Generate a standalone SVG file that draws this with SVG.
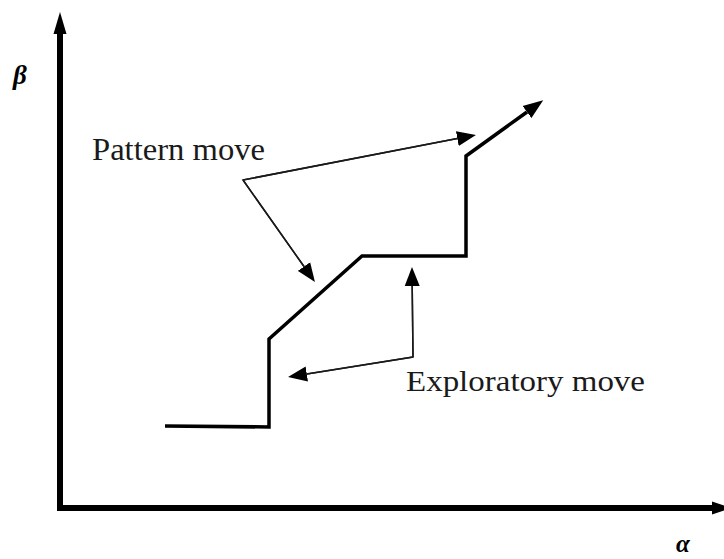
<svg xmlns="http://www.w3.org/2000/svg" width="724" height="559" viewBox="0 0 724 559">
  <style>
    .axis { stroke: #000; stroke-width: 6; fill: none; }
    .thick { stroke: #000; stroke-width: 3.5; fill: none; stroke-linejoin: miter; }
    .thin { stroke: #1a1a1a; stroke-width: 1.5; fill: none; }
    .lbl { fill: #1a1a1a; }
    .sym { font-style: italic; font-weight: bold; fill: #000; }
  </style>
  <defs>
    <marker id="headThick" markerUnits="userSpaceOnUse" viewBox="0 -8 21 16" refX="0" refY="0" markerWidth="21" markerHeight="16" orient="auto">
      <path d="M0,-7.5 L20,0 L0,7.5 z" fill="#000"/>
    </marker>
    <marker id="headThin" markerUnits="userSpaceOnUse" viewBox="0 -8 20 16" refX="0" refY="0" markerWidth="20" markerHeight="16" orient="auto">
      <path d="M0,-7.5 L19,0 L0,7.5 z" fill="#000"/>
    </marker>
  </defs>
  <rect width="724" height="559" fill="#fff"/>

  <g id="axes">
    <line class="axis" x1="60" y1="511" x2="60" y2="32"/>
    <polygon points="60,12 53.5,34 66.5,34" fill="#000"/>
    <line class="axis" x1="57" y1="508" x2="713" y2="508"/>
    <polygon points="731,508 712,501.5 712,514.5" fill="#000"/>
    <text class="sym" x="13" y="84" font-size="27" font-family="'Liberation Serif', 'Times New Roman', serif">β</text>
    <text class="sym" x="676" y="552" font-size="25" font-family="'Liberation Serif', 'Times New Roman', serif">α</text>
  </g>

  <g id="path">
    <polyline class="thick" points="165,426 269,427 269,339 362,256 466,256 466,156 527,112" marker-end="url(#headThick)"/>
  </g>

  <g id="pattern-move">
    <text class="lbl" x="92" y="160" font-size="32" textLength="173" lengthAdjust="spacingAndGlyphs" font-family="'Liberation Serif', 'Times New Roman', serif">Pattern move</text>
  </g>

  <g id="exploratory-move">
    <text class="lbl" x="406" y="391" font-size="29" textLength="239" lengthAdjust="spacingAndGlyphs" font-family="'Liberation Serif', 'Times New Roman', serif">Exploratory move</text>
  </g>

  <g id="connectors">
    <polyline class="thin" points="457.3,138.6 243,180 304,266.5"/>
    <line class="thin" x1="243" y1="180" x2="457.3" y2="138.6" marker-end="url(#headThin)"/>
    <line class="thin" x1="243" y1="180" x2="304" y2="266.5" marker-end="url(#headThin)"/>
    <polyline class="thin" points="412.2,286 413,357 306.8,374"/>
    <line class="thin" x1="413" y1="357" x2="412.2" y2="286" marker-end="url(#headThin)"/>
    <line class="thin" x1="413" y1="357" x2="306.8" y2="374" marker-end="url(#headThin)"/>
  </g>
</svg>
